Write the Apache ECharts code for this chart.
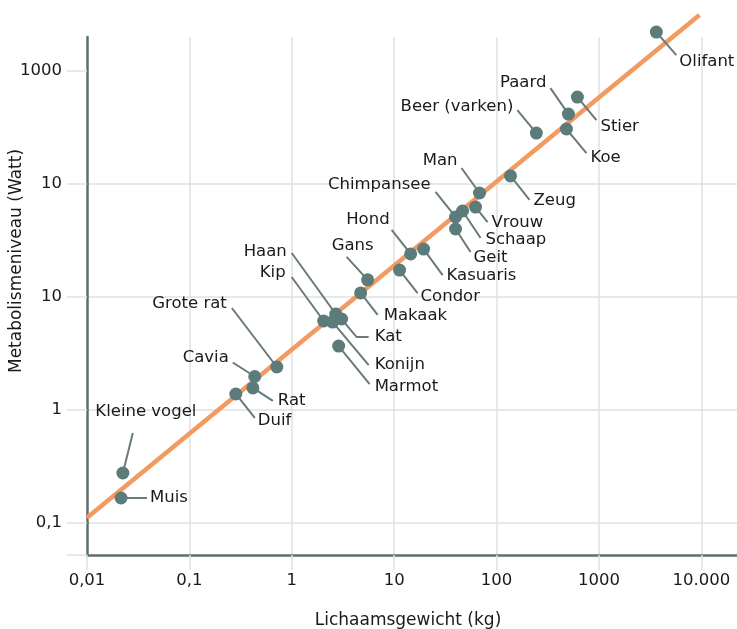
<!DOCTYPE html>
<html>
<head>
<meta charset="utf-8">
<script src="https://cdn.jsdelivr.net/npm/echarts@6/dist/echarts.min.js"></script>
<style>
html,body{margin:0;padding:0;background:#fff;}
#chart{width:737px;height:629px;}
</style>
</head>
<body>
<div id="chart"></div>
<script>
// ---- data ----
const animals = ['Muis','Kleine vogel','Duif','Rat','Cavia','Grote rat','Kip','Haan','Konijn','Kat','Marmot','Makaak','Gans','Condor','Hond','Kasuaris','Geit','Chimpansee','Schaap','Vrouw','Man','Zeug','Beer (varken)','Koe','Paard','Stier','Olifant'];
const weightKg = [0.0215,0.0224,0.284,0.417,0.435,0.715,2.05,2.69,2.51,3.07,2.87,4.71,5.51,11.3,14.5,19.4,39.8,39.8,46.6,62.4,68.2,137,245,482,504,617,3640];
const powerW   = [0.166,0.276,1.38,1.56,1.97,2.39,6.10,7.03,5.97,6.35,3.66,10.8,14.1,17.2,23.9,26.4,39.7,50.7,57.3,62.1,82.6,117,280,304,412,583,2190];
const fitX = [0.01, 9600];
const fitY = [0.111, 3100];
const xTickLabels = ['0,01','0,1','1','10','100','1000','10.000']; // 10^-2 .. 10^4
const yTickLabels = ['0,1','1','10','10','1000'];                  // 10^-1 .. 10^3
const yTickValues = [0.052, 0.1, 1, 10, 100, 1000];

// ---- label layout (pixel offsets from each dot) ----
const leader = {
  'Muis':          {line:[[0,0],[26,0]],           text:[29,0],    align:'left'},
  'Kleine vogel':  {line:[[0,0],[10,-40]],         text:[23,-61],  align:'center'},
  'Duif':          {line:[[0,0],[19,24]],          text:[22,27],   align:'left'},
  'Rat':           {line:[[0,0],[20,13]],          text:[25,13],   align:'left'},
  'Cavia':         {line:[[0,0],[-22,-14]],        text:[-26,-19], align:'right'},
  'Grote rat':     {line:[[0,0],[-45,-59]],        text:[-50,-63], align:'right'},
  'Kip':           {line:[[0,0],[-32,-44]],        text:[-38,-48], align:'right'},
  'Haan':          {line:[[0,0],[-44,-61]],        text:[-49,-62], align:'right'},
  'Konijn':        {line:[[0,0],[36,43]],          text:[42,43],   align:'left'},
  'Kat':           {line:[[0,0],[15,18],[27,18]],  text:[33,18],   align:'left'},
  'Marmot':        {line:[[0,0],[31,38]],          text:[36,41],   align:'left'},
  'Makaak':        {line:[[0,0],[17,22]],          text:[23,23],   align:'left'},
  'Gans':          {line:[[0,0],[-21,-23]],        text:[-15,-34], align:'center'},
  'Condor':        {line:[[0,0],[18,23]],          text:[21,27],   align:'left'},
  'Hond':          {line:[[0,0],[-19,-24]],        text:[-21,-34], align:'right'},
  'Kasuaris':      {line:[[0,0],[19,26]],          text:[23,27],   align:'left'},
  'Geit':          {line:[[0,0],[15,23]],          text:[18,29],   align:'left'},
  'Chimpansee':    {line:[[0,0],[-20,-25]],        text:[-25,-32], align:'right'},
  'Schaap':        {line:[[0,0],[18,27]],          text:[23,29],   align:'left'},
  'Vrouw':         {line:[[0,0],[12,15]],          text:[16,16],   align:'left'},
  'Man':           {line:[[0,0],[-18,-25]],        text:[-22,-32], align:'right'},
  'Zeug':          {line:[[0,0],[19,24]],          text:[23,25],   align:'left'},
  'Beer (varken)': {line:[[0,0],[-19,-23]],        text:[-23,-26], align:'right'},
  'Koe':           {line:[[0,0],[20,24]],          text:[24,29],   align:'left'},
  'Paard':         {line:[[0,0],[-18,-26]],        text:[-22,-31], align:'right'},
  'Stier':         {line:[[0,0],[19,23]],          text:[23,30],   align:'left'},
  'Olifant':       {line:[[0,0],[20,23]],          text:[23,30],   align:'left'}
};

const FONT = "'DejaVu Sans', sans-serif";
const TEXT = '#1a1a1a';
const GRID = '#e1e1e1';
const AXIS = '#5f6f6c';

function powLabel(labels, minExp) {
  return function (v) {
    const e = Math.log10(v);
    const r = Math.round(e);
    if (Math.abs(e - r) > 1e-6) return '';
    const s = labels[r - minExp];
    return s === undefined ? '' : s;
  };
}

const chart = echarts.init(document.getElementById('chart'), null, {renderer: 'canvas'});
const points = animals.map((n, i) => [weightKg[i], powerW[i]]);

chart.setOption({
  animation: false,
  backgroundColor: '#fff',
  grid: {left: 87, right: -5, top: 37, bottom: 74, containLabel: false, outerBoundsMode: 'none'},
  xAxis: {
    type: 'log', logBase: 10, min: 0.01, max: 25000,
    name: 'Lichaamsgewicht (kg)', nameLocation: 'middle', nameGap: 57, nameMoveOverlap: false,
    nameTextStyle: {fontFamily: FONT, fontSize: 17, color: TEXT, padding: [0, 13, 0, 0]},
    axisLine: {show: true, lineStyle: {color: AXIS, width: 2.5}},
    axisTick: {show: true, inside: false, length: 15, lineStyle: {color: GRID, width: 1.5}},
    minorTick: {show: false},
    axisLabel: {margin: 17, fontFamily: FONT, fontSize: 16.5, color: TEXT, formatter: powLabel(xTickLabels, -2)},
    splitLine: {show: true, showMinLine: false, showMaxLine: false, lineStyle: {color: GRID, width: 1.5}}
  },
  yAxis: {
    type: 'log', logBase: 10, min: 0.052, max: 1980,
    name: 'Metabolismeniveau (Watt)', nameLocation: 'middle', nameGap: 62, nameMoveOverlap: false,
    nameTextStyle: {fontFamily: FONT, fontSize: 17, color: TEXT, padding: [0, 0, 0, 70]},
    axisLine: {show: true, lineStyle: {color: AXIS, width: 2.5}},
    axisTick: {show: true, inside: false, length: 20, customValues: yTickValues, lineStyle: {color: GRID, width: 1.5}},
    minorTick: {show: false},
    axisLabel: {margin: 25, fontFamily: FONT, fontSize: 16.5, color: TEXT, formatter: powLabel(yTickLabels, -1)},
    splitLine: {show: true, showMinLine: false, showMaxLine: false, lineStyle: {color: GRID, width: 1.5}}
  },
  series: [
    {
      type: 'line', z: 2, showSymbol: false, silent: true, clip: false,
      data: fitX.map((x, i) => [x, fitY[i]]),
      lineStyle: {color: '#f39a60', width: 4.5}
    },
    {
      type: 'custom', z: 3, silent: true, clip: false,
      data: points,
      renderItem: function (params, api) {
        const name = animals[params.dataIndex];
        const lay = leader[name];
        const p = api.coord([api.value(0), api.value(1)]);
        return {
          type: 'group',
          children: [
            {type: 'polyline', shape: {points: lay.line.map(d => [p[0] + d[0], p[1] + d[1]])},
             style: {stroke: '#697a79', lineWidth: 2, fill: null}},
            {type: 'text', x: p[0] + lay.text[0], y: p[1] + lay.text[1],
             style: {text: name, align: lay.align, verticalAlign: 'middle',
                     font: '16.5px ' + FONT, fill: TEXT}}
          ]
        };
      }
    },
    {
      type: 'scatter', z: 4, symbolSize: 13, silent: true, clip: false,
      data: points,
      itemStyle: {color: '#5c7b7b', opacity: 1}
    }
  ]
});
</script>
</body>
</html>
